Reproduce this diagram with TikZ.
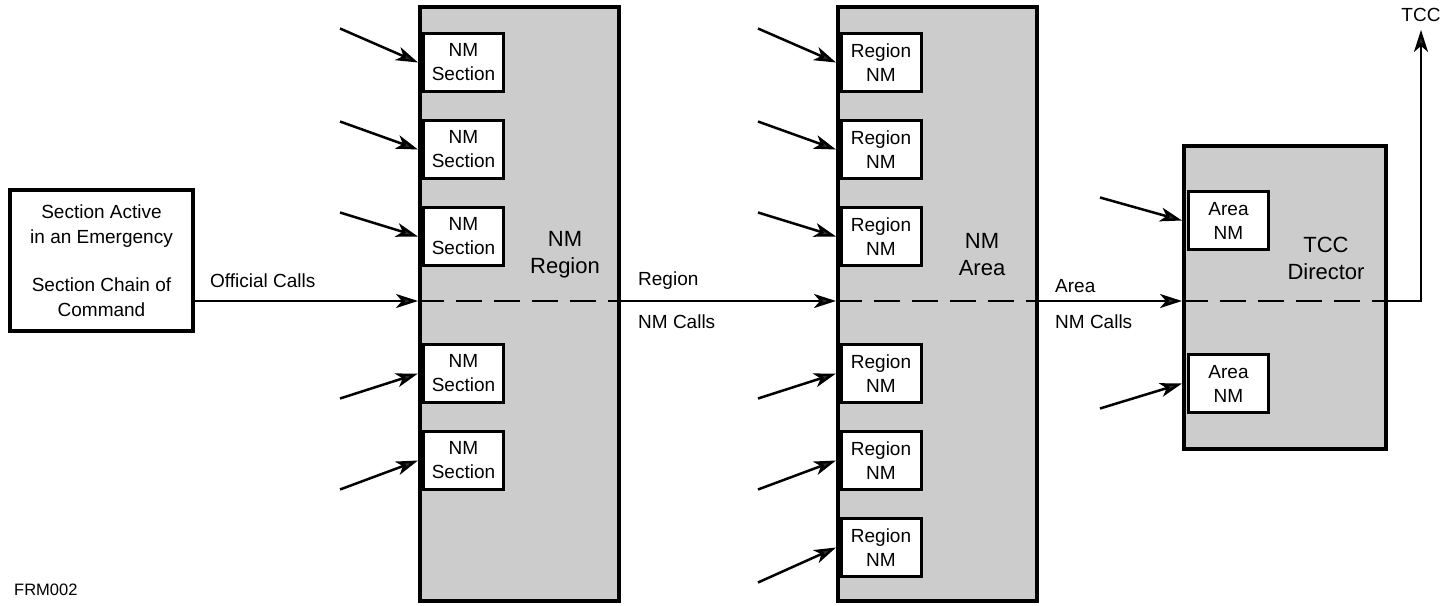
\documentclass[tikz,border=0pt]{standalone}
\usepackage{fontspec}
\setmainfont{Liberation Sans}
\usetikzlibrary{arrows.meta,positioning,calc}
\definecolor{fgray}{HTML}{CCCCCC}
\definecolor{ftip}{HTML}{303030}
\tikzset{
  grande/.style={draw=black,fill=fgray,line width=4pt,minimum width=199pt,minimum height=594pt,inner sep=0pt},
  caixa/.style={draw=black,fill=white,line width=3pt,minimum width=80pt,minimum height=58pt,inner sep=0pt,align=center,font=\fontsize{19}{24}\selectfont},
  fonte/.style={draw=black,fill=white,line width=4pt,minimum width=183pt,minimum height=141pt,inner sep=0pt,align=center,font=\fontsize{19}{24.5}\selectfont},
  rot/.style={align=center,font=\fontsize{22}{27}\selectfont},
  lbl/.style={anchor=west,font=\fontsize{19}{24}\selectfont,inner sep=0pt},
  arr/.style={-{Stealth[length=22pt,width=14pt,inset=6pt,fill=ftip]},line width=2.5pt},
  dsh/.style={line width=2.5pt,dash pattern=on 26pt off 12pt},
}
\begin{document}
\begin{tikzpicture}[x=1pt,y=-1pt]
  \useasboundingbox (0,0) rectangle (1456,605);
  \coordinate (eixo) at (0,301);
  % origem
  \node[fonte] (src) at (101.5,260.5) {Section Active\\in an Emergency\\[24pt]Section Chain of\\Command};
  % caixas grandes
  \node[grande] (reg) at (519.5,304) {};
  \node[grande] (are) at (937.5,304) {};
  \node[grande,minimum width=202pt,minimum height=303pt] (dir) at (1285,297.5) {};
  \node[rot] at (565,255) {NM\\Region};
  \node[rot] at (982,255) {NM\\Area};
  \node[rot] at (1326,258) {TCC\\Director};
  % secoes
  \foreach \i/\y/\d in {1/62.5/-34,2/149.5/-28,3/236.5/-24,4/373.5/25,5/460.5/29} {
    \node[caixa] (s\i) at (463.5,\y) {NM\\Section};
    \draw[arr] ($(reg.west |- s\i.west)+(-78,\d)$) -- (reg.west |- s\i.west);
  }
  % regioes
  \foreach \i/\y/\d in {1/62.5/-34,2/149.5/-28,3/236.5/-24,4/373.5/25,5/460.5/29,6/547.5/35} {
    \node[caixa] (r\i) at (881,\y) {Region\\NM};
    \draw[arr] ($(are.west |- r\i.west)+(-78,\d)$) -- (are.west |- r\i.west);
  }
  % areas
  \foreach \i/\y/\d in {1/220.5/-23,2/383.5/25} {
    \node[caixa] (a\i) at (1228.5,\y) {Area\\NM};
    \draw[arr] ($(dir.west |- a\i.west)+(-82,\d)$) -- (dir.west |- a\i.west);
  }
  % linha principal
  \node[lbl,anchor=center] (tcc) at (1421,15) {TCC};
  \draw[arr] (src.east |- eixo) -- (reg.west |- eixo);
  \draw[dsh] (reg.west |- eixo) -- (reg.east |- eixo);
  \draw[arr] (reg.east |- eixo) -- (are.west |- eixo);
  \draw[dsh] (are.west |- eixo) -- (are.east |- eixo);
  \draw[arr] (are.east |- eixo) -- (dir.west |- eixo);
  \draw[dsh] (dir.west |- eixo) -- (dir.east |- eixo);
  \draw[arr] (dir.east |- eixo) -| ([yshift=-8pt]tcc.south);
  \node[lbl] at (210,281) {Official Calls};
  \node[lbl] at (638,281) {Region};
  \node[lbl] at (638,322) {NM Calls};
  \node[lbl] at (1055,286) {Area};
  \node[lbl] at (1055,322) {NM Calls};
  \node[lbl,font=\fontsize{16.5}{20}\selectfont] at (14,590) {FRM002};
\end{tikzpicture}
\end{document}
